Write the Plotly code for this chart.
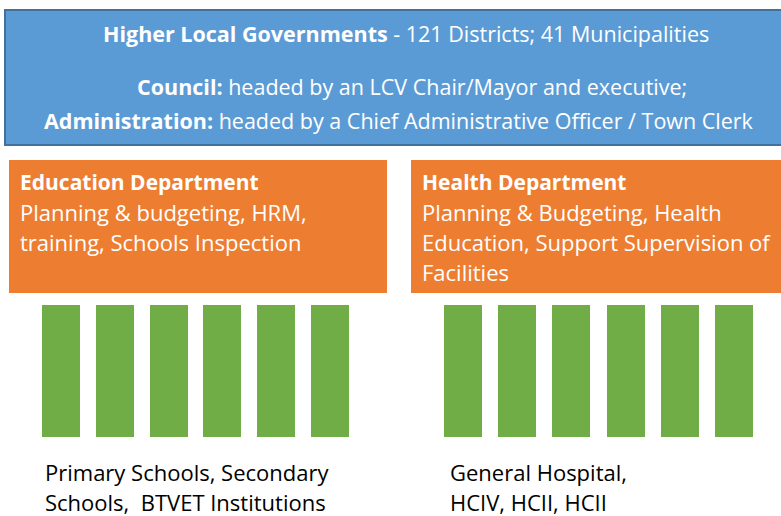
import plotly.graph_objects as go

# ---- data ----
header_lines = [
    "<b>Higher Local Governments</b> - 121 Districts; 41 Municipalities",
    "<b>Council:</b> headed by an LCV Chair/Mayor and executive;",
    "<b>Administration:</b> headed by a Chief Administrative Officer / Town Clerk",
]
departments = ["Education Department", "Health Department"]
dept_lines = [
    ["Planning & budgeting, HRM,", "training, Schools Inspection"],
    ["Planning & Budgeting, Health", "Education, Support Supervision of", "Facilities"],
]
facility_lines = [
    ["Primary Schools, Secondary", "Schools,  BTVET Institutions"],
    ["General Hospital,", "HCIV, HCII, HCII"],
]
facility_bar_heights = [
    [132, 132, 132, 132, 132, 132],
    [132, 132, 132, 132, 132, 132],
]

# ---- layout constants (pixels) ----
W, H = 781, 516
FONT = "Open Sans"
BLUE, BLUE_EDGE = "#5B9BD5", "#41719C"
ORANGE = "#ED7D31"
GREEN = "#70AD47"

fig = go.Figure()

shapes = [dict(type="rect", x0=5, x1=790, y0=10, y1=145, fillcolor=BLUE,
               line=dict(color=BLUE_EDGE, width=2), layer="below")]
annotations = []
header_pos = [(406, 33), (412, 86), (399, 120)]
for txt, (cx, cy) in zip(header_lines, header_pos):
    annotations.append(dict(x=cx, y=cy, text=txt, showarrow=False, xanchor="center",
                            yanchor="middle", font=dict(family=FONT, size=21.5, color="white")))

dept_boxes = [(9, 387), (411, 790)]
text_x = [18, 420]
bar_start = [61, 462.7]
bar_step = [53.8, 54.3]
fac_text_x = [43, 448]

for i, dept in enumerate(departments):
    x0, x1 = dept_boxes[i]
    shapes.append(dict(type="rect", x0=x0, x1=x1, y0=160, y1=293, fillcolor=ORANGE,
                       line=dict(width=0), layer="below"))
    annotations.append(dict(x=text_x[i], y=182, text="<b>" + dept + "</b>", showarrow=False,
                            xanchor="left", yanchor="middle",
                            font=dict(family=FONT, size=21, color="white")))
    for j, line in enumerate(dept_lines[i]):
        annotations.append(dict(x=text_x[i], y=212 + 30 * j, text=line, showarrow=False,
                                xanchor="left", yanchor="middle",
                                font=dict(family=FONT, size=22, color="white")))
    heights = facility_bar_heights[i]
    fig.add_trace(go.Bar(
        x=[bar_start[i] + k * bar_step[i] for k in range(len(heights))],
        y=heights, base=[305] * len(heights), width=38,
        marker=dict(color=GREEN, line=dict(width=0)),
        showlegend=False, hoverinfo="skip"))
    for j, line in enumerate(facility_lines[i]):
        annotations.append(dict(x=fac_text_x[i], y=472 + 30 * j, text=line, showarrow=False,
                                xanchor="left", yanchor="middle",
                                font=dict(family=FONT, size=22, color="black")))

fig.update_layout(
    width=W, height=H, margin=dict(l=0, r=0, t=0, b=0),
    paper_bgcolor="white", plot_bgcolor="white",
    xaxis=dict(range=[0, W], visible=False, fixedrange=True),
    yaxis=dict(range=[H, 0], visible=False, fixedrange=True),
    shapes=shapes, annotations=annotations, bargap=0,
)

fig.write_html("out.html", config={"displayModeBar": False},
               post_script="document.body.style.margin='0';document.body.style.overflow='hidden';")
